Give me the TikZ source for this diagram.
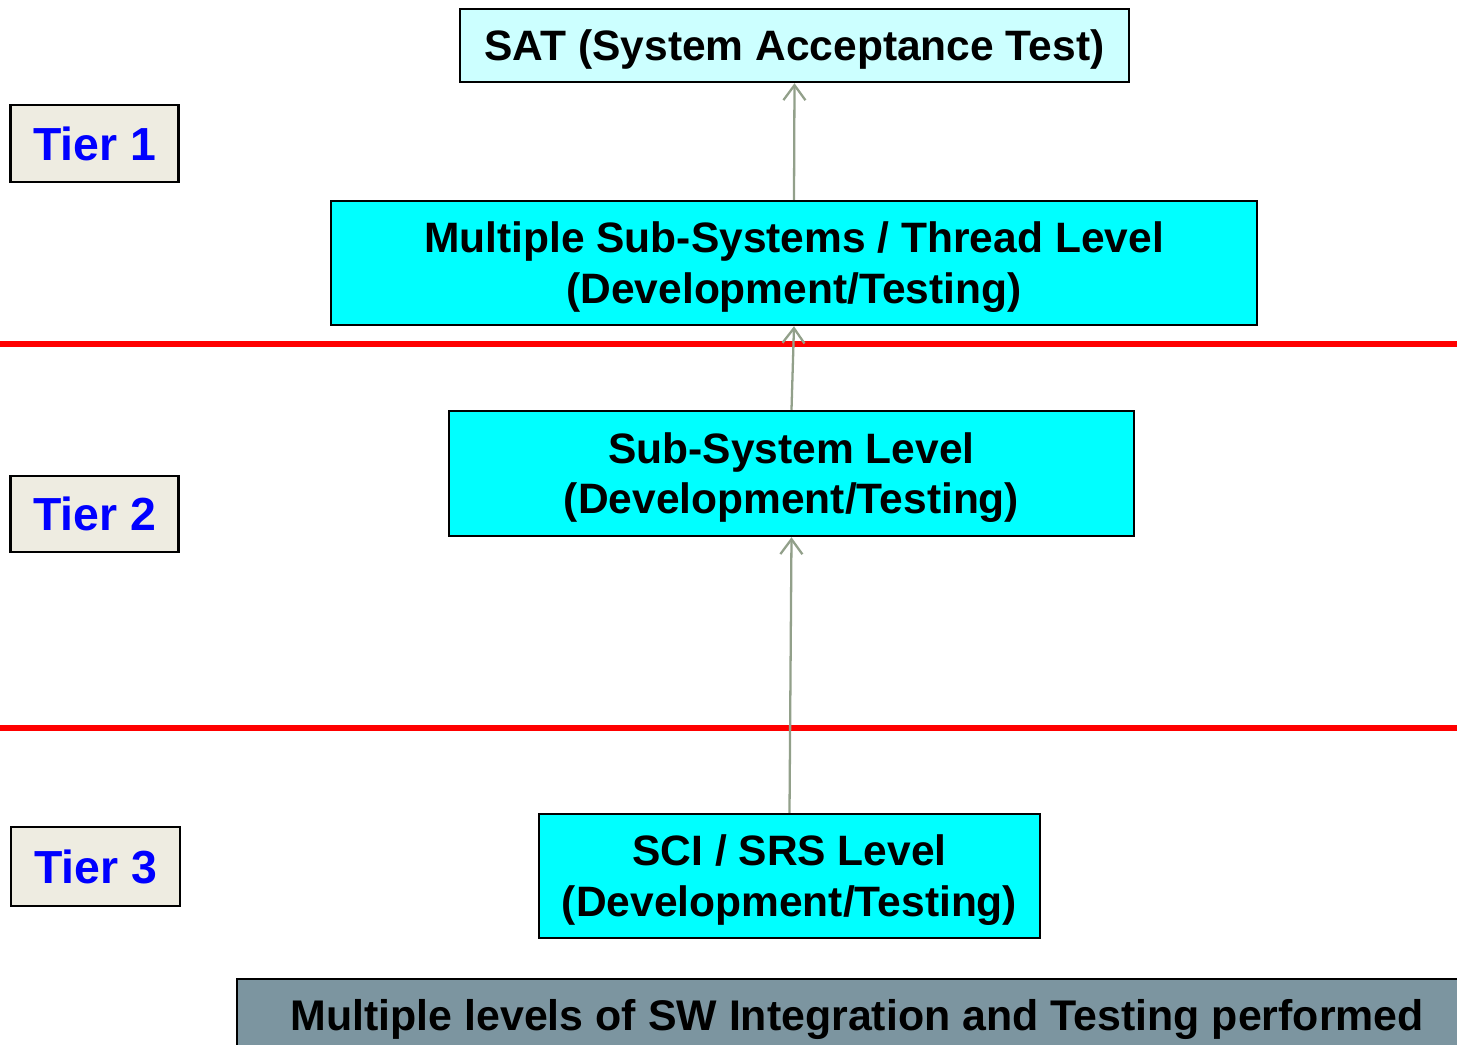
\documentclass[tikz,border=0pt]{standalone}
\usepackage{fontspec}
\setmainfont{Liberation Sans}
\usepackage{xcolor}
\definecolor{cianclaro}{RGB}{204, 255, 255}
\definecolor{cian}{RGB}{0, 255, 255}
\definecolor{beige}{RGB}{238, 236, 225}
\definecolor{grisazul}{RGB}{124, 149, 160}
\definecolor{flechas}{RGB}{146, 160, 138}
\usepackage{tikz}
\usetikzlibrary{shapes, arrows, positioning, arrows.meta}

% Baja un poco el texto sin cambiar el tamaño de la caja
\newcommand{\bajar}[1]{\raisebox{-0.4mm}[\height][\depth]{#1}}

\tikzset{
    nivel/.style={draw=black, line width=0.7pt, fill=cian, align=center, inner sep=0pt,
        font=\fontsize{12.1}{14.3}\selectfont\bfseries},
    tier/.style={draw=black, line width=0.8pt, fill=beige, text=blue, inner sep=0pt,
        minimum width=1.68cm, font=\fontsize{13.2}{15}\selectfont\bfseries},
    subida/.style={draw=flechas, line width=0.65pt, -{Straight Barb[length=1.5mm, width=2.2mm]}}
}

\begin{document}
\begin{tikzpicture}
        \useasboundingbox (0,0) rectangle (14.57,-10.45);
        % Líneas rojas que separan los niveles
        \foreach \y in {3.44, 7.28} {
            \draw[red, line width=1.6pt] (0,-\y) -- (14.57,-\y);
        }
        % Cajas de los niveles
        \node[nivel, fill=cianclaro, minimum width=6.69cm, minimum height=0.73cm] (sat) at (7.945,-0.455) {\bajar{SAT (System Acceptance Test)}};
        \node[nivel, minimum width=9.26cm, minimum height=1.24cm] (multi) at (7.94,-2.63) {\bajar{Multiple Sub-Systems / Thread Level}\\\bajar{(Development/Testing)}};
        \node[nivel, minimum width=6.85cm, minimum height=1.25cm] (sub) at (7.915,-4.735) {\bajar{Sub-System Level}\\\bajar{(Development/Testing)}};
        \node[nivel, minimum width=5.01cm, minimum height=1.24cm] (sci) at (7.895,-8.76) {\bajar{SCI / SRS Level}\\\bajar{(Development/Testing)}};
        % Etiquetas de cada tier
        \node[tier, minimum height=0.77cm] (tier1) at (0.945,-1.435) {Tier 1};
        \node[tier, minimum height=0.76cm] (tier2) at (0.945,-5.14) {Tier 2};
        \node[tier, minimum width=1.69cm, minimum height=0.79cm] (tier3) at (0.955,-8.665) {Tier 3};
        % Barra de abajo
        \node[nivel, fill=grisazul, minimum width=12.4cm, minimum height=0.8cm, anchor=north west,
            font=\fontsize{12.2}{14.3}\selectfont\bfseries] (barra) at (2.36,-9.78) {Multiple levels of SW Integration and Testing performed};
        % Flechas entre niveles
        \draw[subida] (multi.north) -- (sat.south);
        \draw[subida] (sub.north) -- (multi.south);
        \draw[subida] (sci.north) -- (sub.south);
    \end{tikzpicture}
\end{document}
